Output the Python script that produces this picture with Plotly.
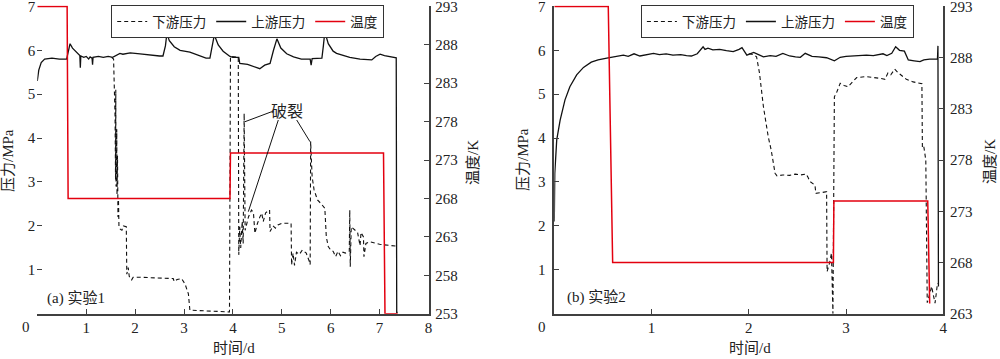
import plotly.graph_objects as go

W, H = 1000, 359

# ---------------- Data: experiment 1 (panel a) ----------------
a_up_t = [0.0, 0.03, 0.08, 0.15, 0.3, 0.45, 0.6, 0.63, 0.67, 0.72, 0.8, 0.87, 0.88, 0.89, 0.95, 1.0,
          1.05, 1.08, 1.12, 1.13, 1.14, 1.25, 1.35, 1.45, 1.54, 1.58, 1.62, 1.69, 1.75, 1.9, 2.1, 2.3,
          2.5, 2.57, 2.62, 2.65, 2.7, 2.8, 2.92, 3.12, 3.3, 3.45, 3.53, 3.58, 3.62, 3.7, 3.8, 3.94,
          4.0, 4.12, 4.14, 4.3, 4.45, 4.55, 4.65, 4.76, 4.83, 4.9, 4.98, 5.1, 5.24, 5.4, 5.58, 5.6,
          5.62, 5.82, 5.85, 5.88, 5.95, 6.05, 6.12, 6.25, 6.39, 6.6, 6.84, 6.92, 7.01, 7.1, 7.2, 7.34,
          7.35, 7.37]
a_up_p = [5.30, 5.55, 5.72, 5.80, 5.82, 5.80, 5.80, 5.95, 6.15, 6.05, 5.95, 5.88, 5.60, 5.87, 5.84, 5.86,
          5.80, 5.85, 5.82, 5.67, 5.84, 5.86, 5.84, 5.86, 5.84, 5.86, 5.89, 5.93, 5.91, 5.94, 5.92, 5.89,
          5.87, 5.87, 6.10, 6.38, 6.22, 6.08, 6.00, 5.96, 5.88, 5.82, 5.82, 6.10, 6.35, 6.12, 5.98, 5.86,
          5.84, 5.84, 5.70, 5.68, 5.62, 5.58, 5.66, 5.70, 6.00, 6.26, 6.05, 5.92, 5.85, 5.80, 5.80, 5.66,
          5.81, 5.82, 6.10, 6.42, 6.15, 5.98, 5.93, 5.88, 5.84, 5.80, 5.78, 5.86, 5.91, 5.88, 5.86, 5.83,
          0.03, 0.03]

a_down_t = [1.52, 1.56, 1.59, 1.6, 1.605, 1.61, 1.615, 1.62, 1.625, 1.63, 1.64, 1.65, 1.66, 1.67, 1.7,
            1.73, 1.76, 1.82, 1.83, 1.86, 1.88, 1.93, 1.96, 2.1, 2.4, 2.7, 2.78, 2.8, 2.86, 2.95, 3.02,
            3.06, 3.09, 3.12, 3.5, 3.93, 3.95, 4.11, 4.12, 4.14, 4.16, 4.19, 4.21, 4.23, 4.25, 4.28,
            4.32, 4.38, 4.42, 4.45, 4.5, 4.55, 4.59, 4.62, 4.67, 4.75, 4.76, 4.82, 4.87, 4.92, 5.0,
            5.19, 5.2, 5.23, 5.26, 5.3, 5.36, 5.42, 5.5, 5.56, 5.58, 5.59, 5.62, 5.66, 5.73, 5.8, 5.88,
            5.91, 5.95, 6.0, 6.05, 6.1, 6.15, 6.2, 6.25, 6.3, 6.38, 6.39, 6.4, 6.42, 6.48, 6.55, 6.6,
            6.62, 6.67, 6.68, 6.72, 6.8, 7.0, 7.2, 7.33]
a_down_p = [5.84, 5.80, 4.50, 3.05, 5.10, 2.90, 4.60, 3.00, 4.20, 2.70, 3.60, 2.20, 2.60, 1.98, 1.92,
            1.90, 2.00, 1.98, 0.90, 1.05, 0.85, 0.77, 0.83, 0.83, 0.82, 0.81, 0.80, 0.73, 0.78, 0.80, 0.68,
            0.55, 0.45, 0.08, 0.06, 0.04, 5.86, 5.84, 1.34, 1.98, 1.50, 2.10, 1.60, 4.56, 1.90, 2.05,
            2.21, 2.36, 2.30, 1.83, 2.05, 2.20, 2.29, 2.10, 2.30, 2.36, 1.87, 2.00, 1.95, 2.02, 2.06,
            2.06, 1.11, 1.38, 1.10, 1.40, 1.35, 1.45, 1.38, 1.20, 1.12, 3.92, 3.12, 2.82, 2.59, 2.51, 2.40,
            1.75, 1.53, 1.45, 1.42, 1.30, 1.42, 1.32, 1.40, 1.38, 1.42, 2.36, 1.07, 1.98, 1.92, 1.85, 1.55,
            1.85, 1.75, 1.30, 1.60, 1.64, 1.58, 1.55, 1.54]

a_temp_t = [0.0, 0.61, 0.63, 3.94, 3.95, 7.08, 7.11, 7.37]
a_temp_k = [293, 293, 268, 268, 273.9, 273.9, 253, 253]

# ---------------- Data: experiment 2 (panel b) ----------------
b_up_t = [0.0, 0.005, 0.025, 0.06, 0.11, 0.16, 0.23, 0.30, 0.38, 0.45, 0.54, 0.6, 0.65, 0.71, 0.76,
          0.82, 0.88, 0.95, 1.02, 1.08, 1.15, 1.22, 1.3, 1.36, 1.41, 1.47, 1.53, 1.55, 1.58, 1.63, 1.7,
          1.77, 1.84, 1.9, 1.93, 1.98, 2.05, 2.1, 2.15, 2.22, 2.28, 2.35, 2.42, 2.48, 2.53, 2.58, 2.65,
          2.72, 2.8, 2.88, 2.94, 3.0, 3.07, 3.14, 3.21, 3.28, 3.34, 3.38, 3.42, 3.47, 3.51, 3.55, 3.6,
          3.64, 3.7, 3.76, 3.8, 3.86, 3.94, 3.945, 3.95]
b_up_p = [2.10, 3.20, 3.96, 4.41, 4.87, 5.17, 5.44, 5.61, 5.73, 5.78, 5.82, 5.84, 5.86, 5.89, 5.86,
          5.92, 5.87, 5.90, 5.93, 5.90, 5.92, 5.89, 5.90, 5.88, 5.87, 5.92, 6.08, 6.02, 6.05, 6.01, 6.02,
          5.99, 5.97, 6.02, 6.06, 5.89, 5.95, 5.90, 5.85, 5.88, 5.86, 5.93, 5.87, 5.85, 5.84, 5.93, 5.86,
          5.85, 5.83, 5.76, 5.84, 5.86, 5.87, 5.88, 5.89, 5.88, 5.90, 5.92, 5.88, 5.93, 6.08, 6.00, 5.98,
          5.78, 5.76, 5.74, 5.78, 5.80, 5.80, 6.10, 0.62]

b_down_t = [2.0, 2.05, 2.08, 2.11, 2.15, 2.2, 2.23, 2.27, 2.29, 2.35, 2.42, 2.48, 2.53, 2.59, 2.61,
            2.63, 2.68, 2.69, 2.75, 2.8, 2.805, 2.83, 2.85, 2.865, 2.88, 2.9, 2.94, 2.98, 3.02, 3.07,
            3.11, 3.21, 3.3, 3.35, 3.4, 3.43, 3.46, 3.5, 3.54, 3.58, 3.62, 3.69, 3.76, 3.78, 3.785,
            3.8, 3.82, 3.835, 3.86, 3.88, 3.9, 3.915, 3.93, 3.94]
b_down_p = [5.92, 5.90, 5.85, 5.48, 4.72, 4.03, 3.73, 3.20, 3.14, 3.16, 3.15, 3.18, 3.16, 3.18, 3.10,
            3.01, 2.93, 2.74, 2.76, 2.78, 0.96, 1.15, 1.38, 0.00, 4.94, 5.02, 5.25, 5.20, 5.17, 5.28,
            5.38, 5.40, 5.38, 5.36, 5.34, 5.48, 5.44, 5.57, 5.48, 5.42, 5.34, 5.28, 5.25, 5.24, 3.77,
            3.80, 3.50, 0.25, 0.45, 0.62, 0.40, 0.24, 0.50, 0.70]

b_temp_t = [0.0, 0.555, 0.60, 2.87, 2.875, 3.84, 3.86]
b_temp_k = [293, 293, 268, 268, 274, 274, 264]

# tick labels
a_xticks = [1, 2, 3, 4, 5, 6, 7, 8]
b_xticks = [1, 2, 3, 4]
p_ticks = [1, 2, 3, 4, 5, 6, 7]
a_kticks = [253, 258, 263, 268, 273, 278, 283, 288, 293]
b_kticks = [263, 268, 273, 278, 283, 288, 293]

names = ["下游压力", "上游压力", "温度"]

RED = "#e3000f"
BLK = "#111111"
AX = "#404040"
SERIF = "Liberation Serif, Noto Sans CJK SC, serif"
CJK = "Liberation Serif, Noto Sans CJK SC, sans-serif"

fig = go.Figure()

# panel a
fig.add_trace(go.Scatter(x=a_down_t, y=a_down_p, mode="lines", name=names[0],
                         line=dict(color=BLK, width=1.1, dash="4px,3px"), xaxis="x", yaxis="y", legend="legend"))
fig.add_trace(go.Scatter(x=a_up_t, y=a_up_p, mode="lines", name=names[1],
                         line=dict(color=BLK, width=1.3), xaxis="x", yaxis="y", legend="legend"))
fig.add_trace(go.Scatter(x=a_temp_t, y=a_temp_k, mode="lines", name=names[2],
                         line=dict(color=RED, width=1.5), xaxis="x", yaxis="y2", legend="legend"))
# panel b
fig.add_trace(go.Scatter(x=b_down_t, y=b_down_p, mode="lines", name=names[0],
                         line=dict(color=BLK, width=1.1, dash="4px,3px"), xaxis="x2", yaxis="y3", legend="legend2"))
fig.add_trace(go.Scatter(x=b_up_t, y=b_up_p, mode="lines", name=names[1],
                         line=dict(color=BLK, width=1.3), xaxis="x2", yaxis="y3", legend="legend2"))
fig.add_trace(go.Scatter(x=b_temp_t, y=b_temp_k, mode="lines", name=names[2],
                         line=dict(color=RED, width=1.5), xaxis="x2", yaxis="y4", legend="legend2"))


def px(xp):
    return xp / W


def py(yp):
    return 1 - yp / H


ydom = [py(313.7), py(5.5)]
tickfont = dict(family=SERIF, size=15, color="#222222")
common = dict(ticks="inside", ticklen=5, tickcolor=AX, tickwidth=1.2, linecolor=AX, linewidth=1.5,
              showgrid=False, zeroline=False, tickfont=tickfont, automargin=False,
              ticklabeloverflow="allow")

fig.update_layout(
    width=W, height=H, margin=dict(l=0, r=0, t=0, b=0, autoexpand=False),
    paper_bgcolor="white", plot_bgcolor="white",
    xaxis=dict(domain=[px(37.3), px(428.5)], range=[0, 8], anchor="y", showline=True,
               tickvals=a_xticks, **common),
    yaxis=dict(domain=ydom, range=[0, 7.02], anchor="x", showline=False, tickvals=p_ticks,
               ticklabelstandoff=1, **common),
    yaxis2=dict(range=[253, 253 + 40 * 7.02 / 7], overlaying="y", side="right", anchor="x",
                showline=True, tickvals=a_kticks, ticklabelstandoff=2, **common),
    xaxis2=dict(domain=[px(554.3), px(943.3)], range=[0, 4], anchor="y3", showline=True,
                tickvals=b_xticks, **common),
    yaxis3=dict(domain=ydom, range=[0, 7.02], anchor="x2", showline=True, tickvals=p_ticks,
                ticklabelstandoff=4, **common),
    yaxis4=dict(range=[263, 263 + 30 * 7.02 / 7], overlaying="y3", side="right", anchor="x2",
                showline=True, tickvals=b_kticks, ticklabelstandoff=2, **common),
    legend=dict(x=px(111), y=py(5), xanchor="left", yanchor="top", orientation="h",
                bordercolor="#333333", borderwidth=1.2, bgcolor="white",
                font=dict(family=CJK, size=13.5, color="#222222"), itemwidth=30, tracegroupgap=0),
    legend2=dict(x=px(640.7), y=py(5), xanchor="left", yanchor="top", orientation="h",
                 bordercolor="#333333", borderwidth=1.2, bgcolor="white",
                 font=dict(family=CJK, size=13.5, color="#222222"), itemwidth=30, tracegroupgap=0),
)

ann = []


def text(x, y, s, size=15, angle=0, xanchor="center"):
    ann.append(dict(x=px(x), y=py(y), xref="paper", yref="paper", text=s, showarrow=False,
                    textangle=angle, xanchor=xanchor, yanchor="middle",
                    font=dict(family=CJK, size=size, color="#222222")))


text(8, 161, "压力/MPa", angle=-90)
text(473, 163, "温度/K", angle=-90)
text(523, 160, "压力/MPa", angle=-90)
text(990, 162, "温度/K", angle=-90)
text(234, 348, "时间/d")
text(750, 348, "时间/d")
text(26, 327, "0")
text(541.7, 327, "0")
text(45, 298, "(a) 实验1", xanchor="left")
text(565, 297, "(b) 实验2", xanchor="left")
text(286.7, 111, "破裂", size=16)
fig.update_layout(annotations=ann)

shapes = []
for (x0, y0, x1, y1) in [(271.7, 111.7, 245, 121.7), (278.3, 120, 248.3, 211.7), (296.7, 120, 310, 141.7)]:
    shapes.append(dict(type="line", xref="paper", yref="paper", x0=px(x0), y0=py(y0), x1=px(x1), y1=py(y1),
                       line=dict(color=BLK, width=1)))
fig.update_layout(shapes=shapes)

fig.write_html("out.html", config={"displayModeBar": False},
               post_script="document.body.style.margin='0px';document.body.style.padding='0px';")
